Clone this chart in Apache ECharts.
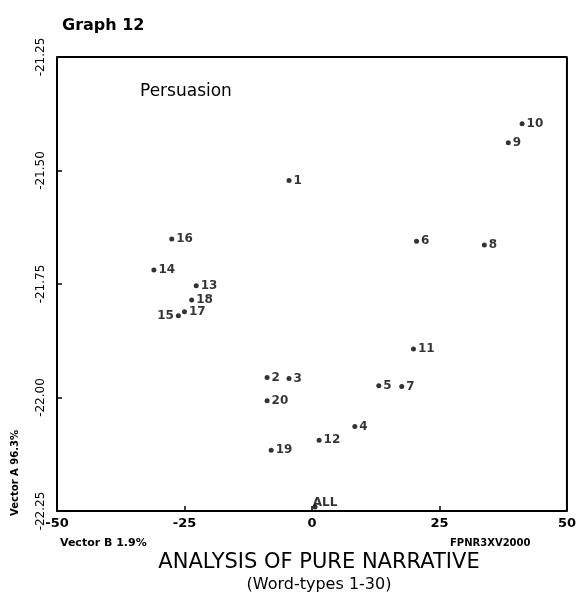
<!DOCTYPE html>
<html>
<head>
<meta charset="utf-8">
<script src="https://cdn.jsdelivr.net/npm/echarts@6/dist/echarts.min.js"></script>
<style>
  html, body { margin: 0; padding: 0; background: #fff; }
  #chart { width: 579px; height: 599px; }
</style>
</head>
<body>
<div id="chart"></div>
<script>
// word-type positions on vector B (x) and vector A (y)
const pointNames = ["1", "2", "3", "4", "5", "6", "7", "8", "9", "10",
  "11", "12", "13", "14", "15", "16", "17", "18", "19", "20", "ALL"];
const vectorB = [-4.5, -8.8, -4.5, 8.4, 13.1, 20.5, 17.6, 33.8, 38.5, 41.2,
  19.9, 1.4, -22.7, -31, -26.2, -27.5, -25, -23.6, -8, -8.8, 0.6];
const vectorA = [-21.522, -21.956, -21.958, -22.064, -21.974, -21.656, -21.976, -21.664, -21.439, -21.397,
  -21.893, -22.094, -21.754, -21.719, -21.82, -21.651, -21.811, -21.785, -22.116, -22.007, -22.241];
const xTicks = [-50, -25, 0, 25, 50];
const yTicks = [-22.25, -22.0, -21.75, -21.5, -21.25];

const font = "DejaVu Sans";
const ink = "#000";

let chart = echarts.init(document.getElementById("chart"));

let points = pointNames.map(function(name, i) {
  let p = { name: name, value: [vectorB[i], vectorA[i]] };
  if (name == "15") {
    p.label = { position: "left" };
  }
  if (name == "ALL") {
    p.label = { position: "top", distance: 0, offset: [10, 4] };
  }
  return p;
});

let option = {
  backgroundColor: "#fff",
  animation: false,
  grid: { left: 57, right: 11, top: 57, bottom: 88 },
  xAxis: {
    type: "value",
    min: xTicks[0],
    max: xTicks[xTicks.length - 1],
    interval: 25,
    splitLine: { show: false },
    axisLine: { show: true, onZero: false, lineStyle: { color: ink, width: 2 } },
    axisTick: { show: true, inside: true, length: 5, lineStyle: { color: ink, width: 1.5 } },
    axisLabel: { color: ink, fontFamily: font, fontSize: 13, fontWeight: "bold", margin: 6 }
  },
  yAxis: {
    type: "value",
    min: yTicks[0],
    max: yTicks[yTicks.length - 1],
    interval: 0.25,
    splitLine: { show: false },
    axisLine: { show: true, onZero: false, lineStyle: { color: ink, width: 2 } },
    axisTick: { show: true, inside: true, length: 5, lineStyle: { color: ink, width: 1.5 } },
    axisLabel: {
      color: ink, fontFamily: font, fontSize: 12, rotate: 90, margin: 10,
      formatter: function(v) { return v.toFixed(2); }
    }
  },
  series: [
    {
      type: "scatter",
      symbol: "circle",
      symbolSize: 5,
      itemStyle: { color: ink },
      data: points,
      label: {
        show: true,
        position: "right",
        distance: 2,
        formatter: "{b}",
        color: ink,
        fontFamily: font,
        fontSize: 12,
        fontWeight: "bold"
      }
    },
    {
      // frame top and right
      type: "line",
      data: [[-50, -21.25], [50, -21.25], [50, -22.25]],
      symbol: "none",
      lineStyle: { color: ink, width: 2 },
      silent: true
    }
  ],
  graphic: [
    { type: "text", left: 62, top: 18, style: { text: "Graph 12", font: "bold 16px " + font, fill: ink } },
    { type: "text", left: 140, top: 83, style: { text: "Persuasion", font: "17px " + font, fill: ink } },
    { type: "text", left: 10, top: 430, rotation: Math.PI / 2, style: { text: "Vector A 96.3%", font: "bold 10px " + font, fill: ink } },
    { type: "text", left: 60, top: 538, style: { text: "Vector B 1.9%", font: "bold 11px " + font, fill: ink } },
    { type: "text", left: 450, top: 538, style: { text: "FPNR3XV2000", font: "bold 10px " + font, fill: ink } },
    { type: "text", x: 319, y: 552, style: { text: "ANALYSIS OF PURE NARRATIVE", font: "21px " + font, fill: ink, align: "center" } },
    { type: "text", x: 319, y: 577, style: { text: "(Word-types 1-30)", font: "16px " + font, fill: ink, align: "center" } }
  ]
};

chart.setOption(option, true);
</script>
</body>
</html>
